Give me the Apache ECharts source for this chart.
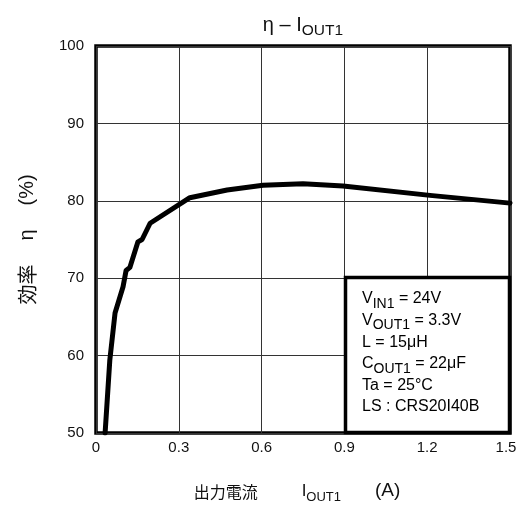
<!DOCTYPE html>
<html><head><meta charset="utf-8">
<script src="https://cdn.jsdelivr.net/npm/echarts@6/dist/echarts.min.js"></script>
<style>html,body{margin:0;padding:0;background:#fff}#c{width:519px;height:507px}</style>
</head><body><div id="c"></div>
<script>
const currentA = [0.033, 0.05, 0.069, 0.098, 0.109, 0.123, 0.152, 0.167, 0.196, 0.34, 0.475, 0.605, 0.75, 0.895, 1.21, 1.5];
const efficiency = [50, 59.4, 65.5, 68.9, 71.0, 71.4, 74.7, 75.0, 77.1, 80.4, 81.4, 82.0, 82.2, 81.9, 80.7, 79.7];
const xTicks = [0, 0.3, 0.6, 0.9, 1.2, 1.5];
const yTicks = [50, 60, 70, 80, 90, 100];
const conditions = [
  ['V', 'IN1', ' = 24V'],
  ['V', 'OUT1', ' = 3.3V'],
  ['L = 15μH', '', ''],
  ['C', 'OUT1', ' = 22μF'],
  ['Ta = 25°C', '', ''],
  ['LS : CRS20I40B', '', '']
];

const FONT = '"Liberation Sans", Arial, sans-serif';
const CJKF = '"Noto Sans CJK JP", sans-serif';
const chart = echarts.init(document.getElementById('c'));
const legendText = conditions.map(r => r[1] ? `{n|${r[0]}}{s|${r[1]}}{n|${r[2]}}` : `{n|${r[0]}}`).join('\n');

chart.setOption({
  animation: false,
  backgroundColor: '#fff',
  title: {
    text: '{n|η – I}{s|OUT1}',
    left: 298, top: 6, textAlign: 'center',
    textStyle: {
      fontWeight: 'normal',
      rich: {
        n: {fontFamily: FONT, fontSize: 20, fontWeight: 'normal', color: '#111', lineHeight: 24, verticalAlign: 'bottom'},
        s: {fontFamily: FONT, fontSize: 15.5, fontWeight: 'normal', color: '#111', lineHeight: 24, verticalAlign: 'bottom', padding: [0, 0, -4, 0]}
      }
    }
  },
  grid: {left: 96, right: 9, top: 46, bottom: 74, containLabel: false, outerBoundsMode: 'none',
    show: true, borderColor: '#000', borderWidth: 3.5, backgroundColor: 'transparent'},
  xAxis: {
    type: 'value', min: xTicks[0], max: xTicks[xTicks.length - 1], interval: 0.3,
    axisLine: {show: false}, axisTick: {show: false},
    splitLine: {show: true, lineStyle: {color: '#333', width: 1}},
    axisLabel: {color: '#111', fontFamily: FONT, fontSize: 15, margin: 7,
      formatter: v => (v === 0 ? '0' : (v === 1.5 ? '{r|1.5}' : v.toFixed(1))),
      rich: {r: {fontFamily: FONT, fontSize: 15, color: '#111', padding: [0, 8, 0, 0]}}},
    name: '{c|出力電流}{g|}{n|I}{s|OUT1}{g2|}{a|(A)}',
    nameLocation: 'middle', nameGap: 45,
    nameTextStyle: {
      padding: [0, 12, 0, 0],
      rich: {
        c: {fontFamily: CJKF, fontSize: 16, color: '#111', lineHeight: 22, verticalAlign: 'bottom'},
        g: {width: 44, lineHeight: 22},
        g2: {width: 34, lineHeight: 22},
        n: {fontFamily: FONT, fontSize: 17, color: '#111', lineHeight: 22, verticalAlign: 'bottom'},
        a: {fontFamily: FONT, fontSize: 19, color: '#111', lineHeight: 22, verticalAlign: 'bottom'},
        s: {fontFamily: FONT, fontSize: 13, color: '#111', lineHeight: 22, verticalAlign: 'bottom', padding: [0, 0, -4, 0]}
      }
    }
  },
  yAxis: {
    type: 'value', min: yTicks[0], max: yTicks[yTicks.length - 1], interval: 10,
    axisLine: {show: false}, axisTick: {show: false},
    splitLine: {show: true, lineStyle: {color: '#333', width: 1}},
    axisLabel: {color: '#111', fontFamily: FONT, fontSize: 15, margin: 12},
    name: '{c|効率}{g|}{n|η}{g|}{n|(%)}', nameLocation: 'middle', nameGap: 57, nameRotate: 90,
    nameTextStyle: {
      rich: {
        c: {fontFamily: CJKF, fontSize: 20, color: '#111', lineHeight: 24},
        g: {width: 24, lineHeight: 24},
        n: {fontFamily: FONT, fontSize: 20, color: '#111', lineHeight: 24}
      }
    }
  },
  series: [{
    type: 'line', data: currentA.map((x, i) => [x, efficiency[i]]),
    showSymbol: false, symbol: 'none', smooth: false,
    lineStyle: {color: '#000', width: 5, join: 'round', cap: 'round'},
    clip: true, z: 3
  }],
  graphic: [{
    type: 'rect', shape: {x: 345.5, y: 277.5, width: 164, height: 155},
    style: {fill: '#fff', stroke: '#000', lineWidth: 3.5}, z: 10
  }, {
    type: 'text', left: 362, top: 291, z: 11,
    style: {
      text: legendText,
      rich: {
        n: {fontFamily: FONT, fontSize: 16, color: '#111', lineHeight: 21.6, verticalAlign: 'bottom'},
        s: {fontFamily: FONT, fontSize: 14, color: '#111', lineHeight: 21.6, verticalAlign: 'bottom', padding: [0, 0, -4, 0]}
      }
    }
  }]
});
</script></body></html>
